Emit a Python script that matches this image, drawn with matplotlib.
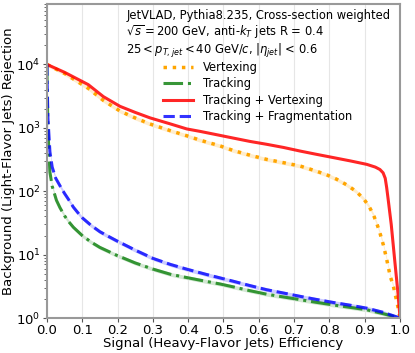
import matplotlib
matplotlib.use("Agg")
import matplotlib.pyplot as plt
import numpy as np

# signal efficiency vs light-jet rejection
vtx_x = [0.0, 0.05, 0.117, 0.16, 0.207, 0.25, 0.292, 0.35, 0.396, 0.433, 0.49, 0.527,
         0.575, 0.622, 0.67, 0.717, 0.76, 0.792, 0.82, 0.849, 0.875, 0.896, 0.912, 0.925,
         0.935, 0.943, 0.953, 0.962, 0.972, 0.981, 0.994, 1.0]
vtx_y = [10000, 7200, 4200, 2700, 1840, 1430, 1150, 900, 750, 640, 520, 440,
         370, 318, 282, 250, 210, 182, 155, 126, 100, 77, 58, 42,
         30, 22, 14, 8.5, 4.6, 3.2, 1.5, 1.0]

trk_x = [0.0, 0.001, 0.003, 0.0085, 0.015, 0.027, 0.037, 0.05, 0.06, 0.075, 0.1, 0.125,
         0.15, 0.175, 0.197, 0.25, 0.301, 0.35, 0.396, 0.45, 0.49, 0.528, 0.575, 0.622,
         0.67, 0.717, 0.76, 0.811, 0.86, 0.906, 0.95, 1.0]
trk_y = [10000, 3500, 900, 200, 120, 72, 55, 41, 34, 27, 20, 15.8,
         13, 11.2, 9.8, 7.4, 5.9, 4.9, 4.35, 3.8, 3.45, 3.1, 2.7, 2.38,
         2.15, 1.95, 1.78, 1.61, 1.47, 1.35, 1.18, 1.0]

tv_x = [0.0, 0.05, 0.117, 0.16, 0.207, 0.25, 0.292, 0.35, 0.396, 0.433, 0.49, 0.527,
        0.575, 0.622, 0.67, 0.717, 0.76, 0.81, 0.86, 0.906, 0.93, 0.943, 0.952, 0.958,
        0.962, 0.966, 0.975, 0.985, 0.994, 1.0]
tv_y = [10000, 7500, 4800, 3100, 2180, 1750, 1435, 1150, 960, 880, 760, 690,
        610, 550, 490, 430, 385, 340, 300, 265, 240, 220, 195, 160,
        115, 77, 30, 8, 2.5, 1.0]

tf_x = [0.0, 0.001, 0.003, 0.0085, 0.015, 0.025, 0.037, 0.05, 0.06, 0.075, 0.098, 0.125,
        0.15, 0.175, 0.197, 0.25, 0.301, 0.35, 0.396, 0.45, 0.49, 0.528, 0.575, 0.622,
        0.67, 0.717, 0.76, 0.811, 0.86, 0.906, 0.95, 1.0]
tf_y = [10000, 4500, 1400, 420, 240, 160, 122, 92, 76, 56, 39, 29,
        23, 19.3, 16.6, 11.8, 8.7, 7.0, 5.9, 4.9, 4.3, 3.8, 3.25, 2.8,
        2.48, 2.2, 1.98, 1.76, 1.59, 1.43, 1.24, 1.0]

fig = plt.figure(figsize=(4.15, 3.53), dpi=100)
ax = fig.add_axes([0.113, 0.099, 0.851, 0.89])

# faint bands around the curves
for xs, ys, c in [(vtx_x, vtx_y, 'orange'), (trk_x, trk_y, 'forestgreen'),
                  (tf_x, tf_y, 'blue')]:
    ys = np.array(ys)
    ax.fill_between(xs, ys * 0.93, ys * 1.07, color=c, alpha=0.2, lw=0)

ax.plot(vtx_x, vtx_y, ':', color='orange', lw=2.5, label='Vertexing')
ax.plot(trk_x, trk_y, '-.', color='forestgreen', lw=2.2, alpha=0.9, label='Tracking')
ax.plot(tv_x, tv_y, '-', color='red', lw=2.2, alpha=0.85, label='Tracking + Vertexing')
ax.plot(tf_x, tf_y, '--', color='blue', lw=2.2, alpha=0.8, label='Tracking + Fragmentation')

ax.set_yscale('log')
ax.set_xlim(0, 1)
ax.set_ylim(1, 9e4)
ax.set_xticks(np.arange(0, 1.01, 0.1))
ax.set_xticklabels(['%.1f' % v for v in np.arange(0, 1.01, 0.1)])
ax.tick_params(labelsize=9.5, colors='#555555', labelcolor='black', length=3, pad=1.5)
ax.tick_params(which='minor', length=2, colors='#555555')
ax.grid(axis='x', color='#e6e6e6', lw=0.8)
for s in ax.spines.values():
    s.set_color('#999999')
    s.set_linewidth(1.5)

ax.set_xlabel('Signal (Heavy-Flavor Jets) Efficiency', fontsize=9.5, labelpad=0)
ax.set_ylabel('Background (Light-Flavor Jets) Rejection', fontsize=9.5, labelpad=1)

ax.text(0.225, 0.985,
        'JetVLAD, Pythia8.235, Cross-section weighted\n'
        r'$\sqrt{s}=200$ GeV, anti-$k_T$ jets R = 0.4' '\n'
        r'$25 < p_{T,jet} < 40$ GeV/$c$, $|\eta_{jet}|$ < 0.6',
        transform=ax.transAxes, fontsize=8.3, va='top', ha='left', linespacing=1.1)

ax.legend(loc='upper left', bbox_to_anchor=(0.305, 0.845), frameon=False,
          fontsize=8.3, handlelength=2.6, handletextpad=0.9, labelspacing=0.3,
          borderpad=0.2)

fig.savefig('out.png', dpi=100)
